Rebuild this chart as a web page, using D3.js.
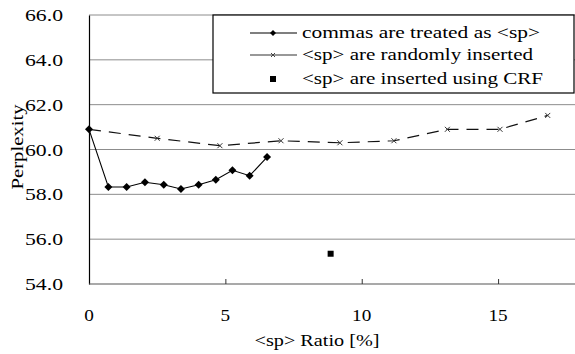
<!DOCTYPE html>
<html><head><meta charset="utf-8">
<script src="https://cdn.jsdelivr.net/npm/d3@7"></script>
<style>body{margin:0;background:#fff}svg{display:block}</style>
</head><body><svg id="c" width="575" height="354"></svg>
<script>
const commasX = [0, 0.71, 1.38, 2.05, 2.74, 3.37, 4.02, 4.65, 5.26, 5.89, 6.53];
const commasY = [60.9, 58.33, 58.33, 58.54, 58.43, 58.24, 58.43, 58.65, 59.07, 58.83, 59.66];
const randomX = [0, 2.50, 4.80, 7.04, 9.20, 11.18, 13.14, 15.07, 16.82];
const randomY = [60.9, 60.50, 60.17, 60.39, 60.30, 60.39, 60.90, 60.90, 61.52];
const crfX = [8.86];
const crfY = [55.35];
const yTicks = [54, 56, 58, 60, 62, 64, 66];
const xTicks = [0, 5, 10, 15];
const legendLabels = ["commas are treated as <sp>", "<sp> are randomly inserted", "<sp> are inserted using CRF"];

const FONT = "'Liberation Serif', 'Times New Roman', Times, 'DejaVu Serif', serif";
const svg = d3.select("#c");
const L = 89, R = 575, T = 15, B = 284;
const x = d3.scaleLinear().domain([0, 17.82]).range([L, R]);
const y = d3.scaleLinear().domain([54, 66]).range([B, T]);

// gridlines
svg.append("g").selectAll("line").data(yTicks.filter(d => d > 54)).join("line")
  .attr("x1", L).attr("x2", R).attr("y1", d => y(d)).attr("y2", d => y(d))
  .attr("stroke", "#8c8c8c").attr("stroke-width", 1);

// y axis
const yAx = svg.append("g").attr("transform", `translate(${L},0)`)
  .call(d3.axisLeft(y).tickValues(yTicks).tickSize(0).tickPadding(26).tickFormat(d3.format(".1f")));
yAx.attr("font-family", null).attr("font-size", null);
yAx.select(".domain").attr("stroke", "#000").attr("stroke-width", 1.2);
yAx.selectAll("text").style("font-family", FONT).style("font-size", "16px").attr("fill", "#000")
  .attr("textLength", 38).attr("lengthAdjust", "spacingAndGlyphs").attr("dy", "0.35em");

// x axis
const xAx = svg.append("g").attr("transform", `translate(0,${B})`)
  .call(d3.axisTop(x).tickValues(xTicks.filter(d => d > 0)).tickSize(5).tickFormat(""));
xAx.select(".domain").attr("stroke", "#555").attr("stroke-width", 1.2).attr("d", `M${L},0H${R}`);
xAx.selectAll(".tick line").attr("stroke", "#333");
svg.append("g").selectAll("text").data(xTicks).join("text")
  .attr("x", d => x(d)).attr("y", 321).attr("text-anchor", "middle")
  .style("font-family", FONT).style("font-size", "16px")
  .attr("textLength", d => String(d).length * 9.6).attr("lengthAdjust", "spacingAndGlyphs")
  .text(d => d);

// axis titles
svg.append("text").attr("x", 317).attr("y", 346).attr("text-anchor", "middle")
  .style("font-family", FONT).style("font-size", "16px").attr("textLength", 125).attr("lengthAdjust", "spacingAndGlyphs")
  .text("<sp> Ratio [%]");
svg.append("text").attr("transform", "translate(23,147) rotate(-90)").attr("text-anchor", "middle")
  .style("font-family", FONT).style("font-size", "17px").attr("textLength", 85).attr("lengthAdjust", "spacingAndGlyphs")
  .text("Perplexity");

// series 2: random (dashed)
const rnd = randomX.map((v, i) => [v, randomY[i]]);
svg.append("path").datum(rnd)
  .attr("d", d3.line().x(d => x(d[0])).y(d => y(d[1])))
  .attr("fill", "none").attr("stroke", "#111").attr("stroke-width", 1.2).attr("stroke-dasharray", "12,8");
const xm = "M-2.5,-2.5L2.5,2.5M-2.5,2.5L2.5,-2.5";
svg.append("g").selectAll("path").data(rnd.slice(1)).join("path")
  .attr("transform", d => `translate(${x(d[0])},${y(d[1])})`).attr("d", xm)
  .attr("stroke", "#333").attr("stroke-width", 1).attr("fill", "none");

// series 1: commas (solid with diamonds)
const com = commasX.map((v, i) => [v, commasY[i]]);
svg.append("path").datum(com)
  .attr("d", d3.line().x(d => x(d[0])).y(d => y(d[1])))
  .attr("fill", "none").attr("stroke", "#000").attr("stroke-width", 1.1);
const dia = "M0,-4L4,0L0,4L-4,0Z";
svg.append("g").selectAll("path").data(com).join("path")
  .attr("transform", d => `translate(${x(d[0])},${y(d[1])})`).attr("d", dia).attr("fill", "#000");

// CRF point
svg.append("g").selectAll("rect").data(crfX.map((v, i) => [v, crfY[i]])).join("rect")
  .attr("x", d => x(d[0]) - 3).attr("y", d => y(d[1]) - 3).attr("width", 6).attr("height", 6).attr("fill", "#000");

// legend
const lg = svg.append("g");
lg.append("rect").attr("x", 213).attr("y", 15).attr("width", 361).attr("height", 78)
  .attr("fill", "#fff").attr("stroke", "#000").attr("stroke-width", 1.2);
const rows = [33, 55, 79];
const widths = [238, 231, 241];
legendLabels.forEach((t, i) => {
  const ry = rows[i];
  if (i < 2) {
    lg.append("line").attr("x1", 250).attr("x2", 297).attr("y1", ry).attr("y2", ry)
      .attr("stroke", i === 0 ? "#000" : "#333").attr("stroke-width", 1.1);
  }
  if (i === 0) lg.append("path").attr("transform", `translate(273,${ry})`).attr("d", "M0,-3L3,0L0,3L-3,0Z").attr("fill", "#000");
  if (i === 1) lg.append("path").attr("transform", `translate(273,${ry})`).attr("d", "M-2,-2L2,2M-2,2L2,-2").attr("stroke", "#444").attr("fill", "none");
  if (i === 2) lg.append("rect").attr("x", 270).attr("y", ry - 3).attr("width", 6).attr("height", 6).attr("fill", "#000");
  lg.append("text").attr("x", 302).attr("y", ry + 5).style("font-family", FONT).style("font-size", "16px")
    .attr("textLength", widths[i]).attr("lengthAdjust", "spacingAndGlyphs").text(t);
});
</script></body></html>
